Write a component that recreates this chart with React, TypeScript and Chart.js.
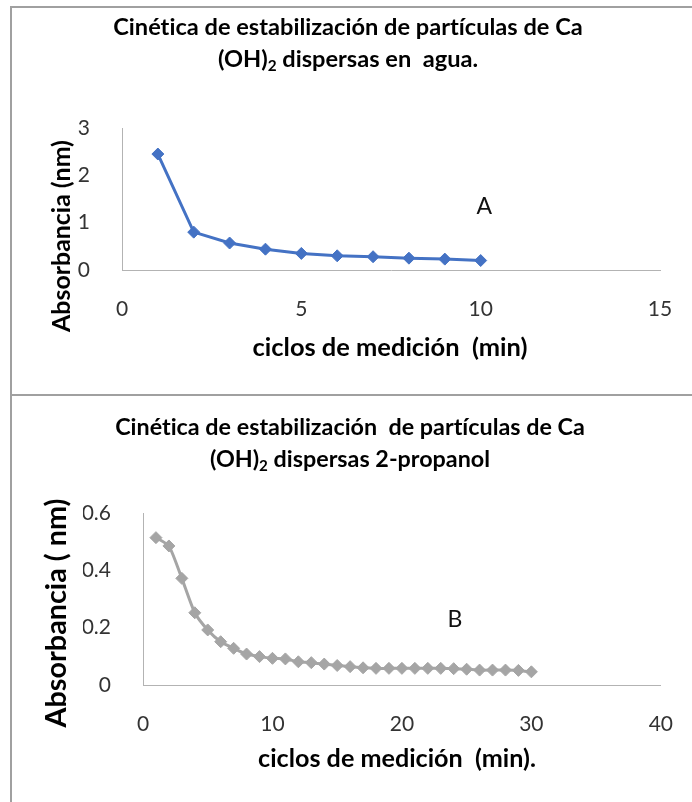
import React, { useEffect, useRef } from "react";
import { Chart, registerables } from "chart.js";

Chart.register(...registerables);

// ---------- data ----------
const cyclesA = [1, 2, 3, 4, 5, 6, 7, 8, 9, 10];
const absorbanceA = [2.45, 0.8, 0.57, 0.44, 0.35, 0.3, 0.28, 0.25, 0.23, 0.2];

const cyclesB = [
  1, 2, 3, 4, 5, 6, 7, 8, 9, 10, 11, 12, 13, 14, 15, 16, 17, 18, 19, 20, 21, 22, 23, 24, 25, 26, 27, 28, 29, 30,
];
const absorbanceB = [
  0.514, 0.485, 0.372, 0.252, 0.192, 0.151, 0.128, 0.108, 0.099, 0.093, 0.091, 0.081, 0.078, 0.073, 0.068,
  0.064, 0.06, 0.058, 0.058, 0.058, 0.058, 0.058, 0.058, 0.057, 0.055, 0.052, 0.052, 0.052, 0.051, 0.046,
];

const xTicksA = [0, 5, 10, 15];
const yTicksA = [0, 1, 2, 3];
const xTicksB = [0, 10, 20, 30, 40];
const yTicksB = [0, 0.2, 0.4, 0.6];

const titleA1 = "Cinética de estabilización de partículas de Ca";
const titleA2 = ["(OH)", "2", " dispersas en  agua."];
const titleB1 = "Cinética de estabilización  de partículas de Ca";
const titleB2 = ["(OH)", "2", " dispersas 2-propanol"];
const xTitleA = "ciclos de medición  (min)";
const xTitleB = "ciclos de medición  (min).";
const yTitleA = "Absorbancia (nm)";
const yTitleB = "Absorbancia ( nm)";
const letterA = "A";
const letterB = "B";
const letterPosA = [10.1, 1.33];
const letterPosB = [24.1, 0.227];

// ---------- styling ----------
const FONT = "Lato, 'Open Sans', sans-serif";
const TICK_COLOR = "#333333";
const AXIS_COLOR = "#b3b3b3";

type Layout = {
  height: number;
  area: { left: number; top: number; right: number; bottom: number };
  titleCx: number;
  title1Y: number;
  title2Y: number;
  title1W: number;
  xTitleCx: number;
  xTitleY: number;
  xTitleW: number;
  yTitleCx: number;
  yTitleCy: number;
  yTitleW: number;
};

const layoutA: Layout = {
  height: 395,
  area: { left: 122, top: 128, right: 660, bottom: 270 },
  titleCx: 348,
  title1Y: 27,
  title2Y: 59,
  title1W: 470,
  xTitleCx: 390,
  xTitleY: 348,
  xTitleW: 275,
  yTitleCx: 62,
  yTitleCy: 236,
  yTitleW: 192,
};

const layoutB: Layout = {
  height: 407,
  area: { left: 143, top: 118, right: 662, bottom: 290 },
  titleCx: 350,
  title1Y: 32,
  title2Y: 64,
  title1W: 470,
  xTitleCx: 397,
  xTitleY: 364,
  xTitleW: 278,
  yTitleCx: 57,
  yTitleCy: 218,
  yTitleW: 229,
};

function fitSize(ctx: CanvasRenderingContext2D, text: string, weight: string, width: number) {
  ctx.font = `${weight} 100px ${FONT}`;
  const w = ctx.measureText(text).width;
  return (100 * width) / w;
}

const textPlugin = {
  id: "panelText",
  afterDraw(chart: any, _args: any, o: any) {
    const ctx: CanvasRenderingContext2D = chart.ctx;
    const L: Layout = o.layout;
    ctx.save();
    try {
      (ctx as any).textRendering = "optimizeSpeed";
    } catch (e) {}
    ctx.fillStyle = "#000";
    ctx.textBaseline = "middle";

    // title line 1
    const ts = fitSize(ctx, o.title1, "bold", L.title1W);
    ctx.font = `bold ${ts}px ${FONT}`;
    ctx.textAlign = "center";
    ctx.fillText(o.title1, L.titleCx, L.title1Y);

    // title line 2 with subscript
    const [a, sub, b] = o.title2 as string[];
    const subSize = ts * 0.65;
    ctx.font = `bold ${ts}px ${FONT}`;
    const wa = ctx.measureText(a).width;
    const wb = ctx.measureText(b).width;
    ctx.font = `bold ${subSize}px ${FONT}`;
    const ws = ctx.measureText(sub).width;
    let x = L.titleCx - (wa + ws + wb) / 2;
    ctx.textAlign = "left";
    ctx.font = `bold ${ts}px ${FONT}`;
    ctx.fillText(a, x, L.title2Y);
    x += wa;
    ctx.font = `bold ${subSize}px ${FONT}`;
    ctx.fillText(sub, x, L.title2Y + ts * 0.3);
    x += ws;
    ctx.font = `bold ${ts}px ${FONT}`;
    ctx.fillText(b, x, L.title2Y);

    // x-axis title
    const xs = fitSize(ctx, o.xTitle, "bold", L.xTitleW);
    ctx.font = `bold ${xs}px ${FONT}`;
    ctx.textAlign = "center";
    ctx.fillText(o.xTitle, L.xTitleCx, L.xTitleY);

    // y-axis title
    const ys = fitSize(ctx, o.yTitle, "bold", L.yTitleW);
    ctx.save();
    ctx.translate(L.yTitleCx, L.yTitleCy);
    ctx.rotate(-Math.PI / 2);
    ctx.font = `bold ${ys}px ${FONT}`;
    ctx.textAlign = "center";
    ctx.fillText(o.yTitle, 0, 0);
    ctx.restore();

    // series letter
    const lx = chart.scales.x.getPixelForValue(o.letterPos[0]);
    const ly = chart.scales.y.getPixelForValue(o.letterPos[1]);
    ctx.font = `normal 23px ${FONT}`;
    ctx.textAlign = "center";
    ctx.fillStyle = "#111";
    ctx.fillText(o.letter, lx, ly);

    ctx.restore();
  },
};

type PanelProps = {
  xs: number[];
  ys: number[];
  color: string;
  tension: number;
  xTicks: number[];
  yTicks: number[];
  title1: string;
  title2: string[];
  xTitle: string;
  yTitle: string;
  letter: string;
  letterPos: number[];
  layout: Layout;
  top: number;
};

function Panel(p: PanelProps) {
  const ref = useRef<HTMLCanvasElement | null>(null);
  useEffect(() => {
    if (!ref.current) return;
    const L = p.layout;
    const W = 692;
    const scaleW = 60;
    const scaleH = 60;
    const tickFont = { family: FONT, size: 21 };
    const chart = new Chart(ref.current, {
      type: "scatter",
      data: {
        datasets: [
          {
            data: p.xs.map((x, i) => ({ x, y: p.ys[i] })),
            showLine: true,
            borderColor: p.color,
            backgroundColor: p.color,
            borderWidth: 3,
            pointStyle: "rectRot",
            pointRadius: 6,
            pointHoverRadius: 6,
            pointBackgroundColor: p.color,
            pointBorderColor: p.color,
            pointBorderWidth: 1,
            tension: p.tension,
          } as any,
        ],
      },
      options: {
        responsive: false,
        animation: false,
        devicePixelRatio: 1,
        layout: {
          padding: {
            left: L.area.left - scaleW,
            top: L.area.top,
            right: W - L.area.right,
            bottom: L.height - L.area.bottom - scaleH,
          },
        },
        plugins: {
          legend: { display: false },
          title: { display: false },
          tooltip: { enabled: false },
          panelText: {
            layout: L,
            title1: p.title1,
            title2: p.title2,
            xTitle: p.xTitle,
            yTitle: p.yTitle,
            letter: p.letter,
            letterPos: p.letterPos,
          },
        } as any,
        scales: {
          x: {
            type: "linear",
            min: p.xTicks[0],
            max: p.xTicks[p.xTicks.length - 1],
            afterBuildTicks: (s: any) => {
              s.ticks = p.xTicks.map((v) => ({ value: v }));
            },
            afterFit: (s: any) => {
              s.height = scaleH;
            },
            grid: { display: false },
            border: { display: true, color: AXIS_COLOR, width: 1 },
            ticks: {
              padding: 19,
              font: tickFont,
              color: TICK_COLOR,
              maxRotation: 0,
              callback: (v: any) => String(v),
            },
          },
          y: {
            type: "linear",
            min: p.yTicks[0],
            max: p.yTicks[p.yTicks.length - 1],
            afterBuildTicks: (s: any) => {
              s.ticks = p.yTicks.map((v) => ({ value: v }));
            },
            afterFit: (s: any) => {
              s.width = scaleW;
            },
            grid: { display: false },
            border: { display: true, color: AXIS_COLOR, width: 1 },
            ticks: {
              padding: 24,
              font: tickFont,
              color: TICK_COLOR,
              callback: (v: any) => String(v),
            },
          },
        },
      },
      plugins: [textPlugin as any],
    });
    return () => chart.destroy();
  }, []);
  return (
    <canvas
      ref={ref}
      width={692}
      height={p.layout.height}
      style={{ position: "absolute", left: 0, top: p.top, width: 692, height: p.layout.height }}
    />
  );
}

export default function App() {
  const line = "#a0a0a0";
  return (
    <div style={{ position: "absolute", left: 0, top: 0, width: 692, height: 802, background: "#fff", overflow: "hidden" }}>
      <Panel
        xs={cyclesA}
        ys={absorbanceA}
        color="#4472C4"
        tension={0}
        xTicks={xTicksA}
        yTicks={yTicksA}
        title1={titleA1}
        title2={titleA2}
        xTitle={xTitleA}
        yTitle={yTitleA}
        letter={letterA}
        letterPos={letterPosA}
        layout={layoutA}
        top={0}
      />
      <Panel
        xs={cyclesB}
        ys={absorbanceB}
        color="#A5A5A5"
        tension={0.2}
        xTicks={xTicksB}
        yTicks={yTicksB}
        title1={titleB1}
        title2={titleB2}
        xTitle={xTitleB}
        yTitle={yTitleB}
        letter={letterB}
        letterPos={letterPosB}
        layout={layoutB}
        top={395}
      />
      <div style={{ position: "absolute", left: 10, top: 6, width: 682, height: 2, background: line }} />
      <div style={{ position: "absolute", left: 10, top: 6, width: 2, height: 796, background: line }} />
      <div style={{ position: "absolute", left: 10, top: 394, width: 682, height: 2, background: line }} />
    </div>
  );
}
